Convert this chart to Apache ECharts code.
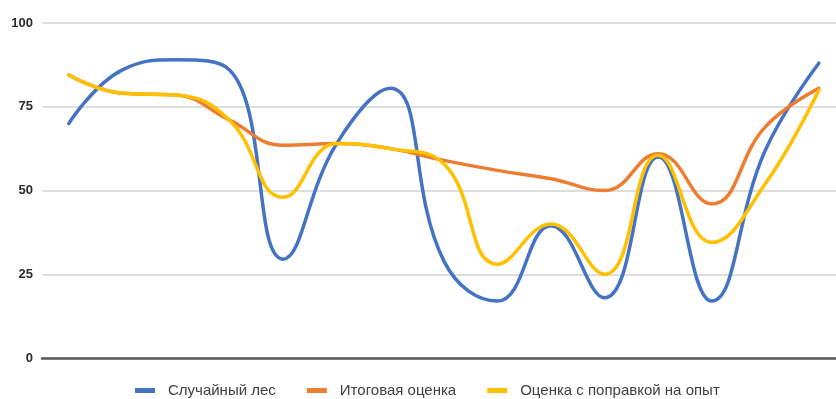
<!DOCTYPE html>
<html>
<head>
<meta charset="utf-8">
<script src="https://cdn.jsdelivr.net/npm/echarts@6/dist/echarts.min.js"></script>
<style>
html,body{margin:0;padding:0;background:#fff;}
#chart{width:836px;height:399px;}
</style>
</head>
<body>
<div id="chart"></div>
<script>
const categories = [0, 1, 2, 3, 4, 5, 6, 7, 8, 9, 10, 11, 12, 13, 14];
const seriesNames = ['Случайный лес', 'Итоговая оценка', 'Оценка с поправкой на опыт'];
const randomForest = [70, 86, 89, 86, 29.5, 64, 80.5, 29, 17, 39.5, 18, 60, 17, 62, 88];
const finalScore   = [84.5, 79, 78.5, 71, 63.5, 64, 62.5, 59, 56, 53.5, 50, 61, 46, 69, 80.5];
const adjusted     = [84.5, 79, 78.5, 71, 48, 64, 62.5, 58, 28, 40, 25, 60.5, 34.5, 52, 80];
const yTicks = [0, 25, 50, 75, 100];

const colors = ['#4472C4', '#ED7D31', '#FFC000'];
const chart = echarts.init(document.getElementById('chart'));
const mk = (name, vals, color) => ({
  name, type: 'line', data: categories.map((c, i) => [c, vals[i]]),
  smooth: 0.45, symbol: 'none',
  lineStyle: { color, width: 3.5, cap: 'round' }, itemStyle: { color }
});
chart.setOption({
  animation: false,
  grid: { left: 42, right: 0, top: 23, bottom: 41 },
  legend: {
    top: 378, left: 130,
    itemWidth: 20, itemHeight: 5, itemGap: 31,
    icon: 'rect',
    textStyle: { fontFamily: 'Liberation Sans', fontSize: 15, color: '#404040', padding: [0, 0, 0, 8] },
    data: seriesNames
  },
  xAxis: {
    type: 'value', min: -0.5, max: 14.32,
    splitLine: { show: false },
    axisLine: { show: true, lineStyle: { color: '#595959', width: 2.5 } },
    axisTick: { show: false }, axisLabel: { show: false }
  },
  yAxis: {
    type: 'value', min: yTicks[0], max: yTicks[yTicks.length - 1], interval: 25,
    axisLine: { show: false }, axisTick: { show: false },
    axisLabel: { fontFamily: 'Liberation Sans', fontWeight: 'bold', fontSize: 13, color: '#2b2b2b', margin: 9 },
    splitLine: { lineStyle: { color: '#dedede', width: 2 } }
  },
  series: [
    mk(seriesNames[0], randomForest, colors[0]),
    mk(seriesNames[1], finalScore, colors[1]),
    mk(seriesNames[2], adjusted, colors[2])
  ]
});
</script>
</body>
</html>
